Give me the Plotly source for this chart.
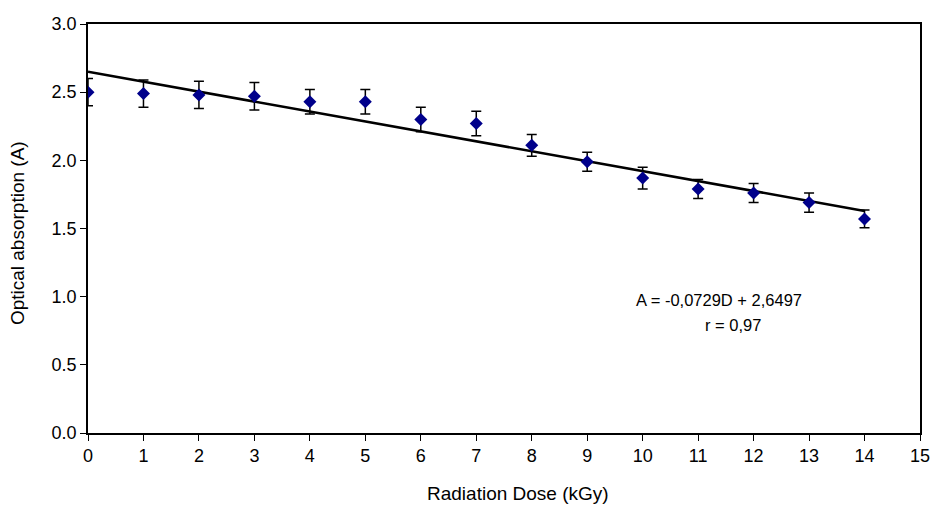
import plotly.graph_objects as go

# dose (kGy) vs optical absorption
dose = [0, 1, 2, 3, 4, 5, 6, 7, 8, 9, 10, 11, 12, 13, 14]
absorption = [2.50, 2.49, 2.48, 2.47, 2.43, 2.43, 2.30, 2.27, 2.11, 1.99, 1.87, 1.79, 1.76, 1.69, 1.57]
err = [0.10, 0.10, 0.10, 0.10, 0.09, 0.09, 0.09, 0.09, 0.08, 0.07, 0.08, 0.07, 0.07, 0.07, 0.065]

# linear fit printed on the chart
slope = -0.0729
intercept = 2.6497
fit_x = [0, 14]
fit_y = [slope * d + intercept for d in fit_x]

font = "Liberation Sans, Arial, sans-serif"

fig = go.Figure()

fig.add_trace(go.Scatter(
    x=fit_x, y=fit_y, mode="lines",
    line=dict(color="black", width=2.5),
    hoverinfo="skip",
))

fig.add_trace(go.Scatter(
    x=dose, y=absorption, mode="markers",
    marker=dict(symbol="diamond", size=10, color="#00008B"),
    error_y=dict(type="data", array=err, color="black", thickness=1.5, width=5),
))

# equation text
fig.add_annotation(
    x=11.38, y=0.975, xref="x", yref="y",
    text="A = -0,0729D + 2,6497",
    showarrow=False,
    font=dict(family=font, size=16.5, color="black"),
)
fig.add_annotation(
    x=11.63, y=0.79, xref="x", yref="y",
    text="r = 0,97",
    showarrow=False,
    font=dict(family=font, size=16.5, color="black"),
)

# axis titles as annotations (the x title sits a bit right of centre)
fig.add_annotation(
    x=0.517, y=-0.149, xref="paper", yref="paper",
    text="Radiation Dose (kGy)", showarrow=False, yanchor="middle",
    font=dict(family=font, size=19, color="black"),
)
fig.add_annotation(
    x=-0.084, y=0.489, xref="paper", yref="paper",
    text="Optical absorption (A)", showarrow=False, textangle=-90,
    xanchor="center", yanchor="middle",
    font=dict(family=font, size=19, color="black"),
)

axis_common = dict(
    showgrid=False, zeroline=False,
    showline=True, linecolor="black", linewidth=1.5, mirror=True,
    ticks="outside", ticklen=6, tickcolor="black",
    tickfont=dict(family=font, size=18, color="black"),
    ticklabeloverflow="allow", automargin=False,
)

fig.update_xaxes(range=[0, 15], tickmode="linear", tick0=0, dtick=1, **axis_common)
fig.update_yaxes(range=[0, 3], tickmode="linear", tick0=0, dtick=0.5, tickformat=".1f", **axis_common)

fig.update_layout(
    width=934, height=508,
    margin=dict(l=88, r=14, t=24, b=75),
    paper_bgcolor="white", plot_bgcolor="white",
    showlegend=False,
)

# drop the default body margin so the figure fills the window exactly
fig.write_html(
    "out.html",
    config={"displayModeBar": False},
    post_script="document.body.style.margin='0';",
)
